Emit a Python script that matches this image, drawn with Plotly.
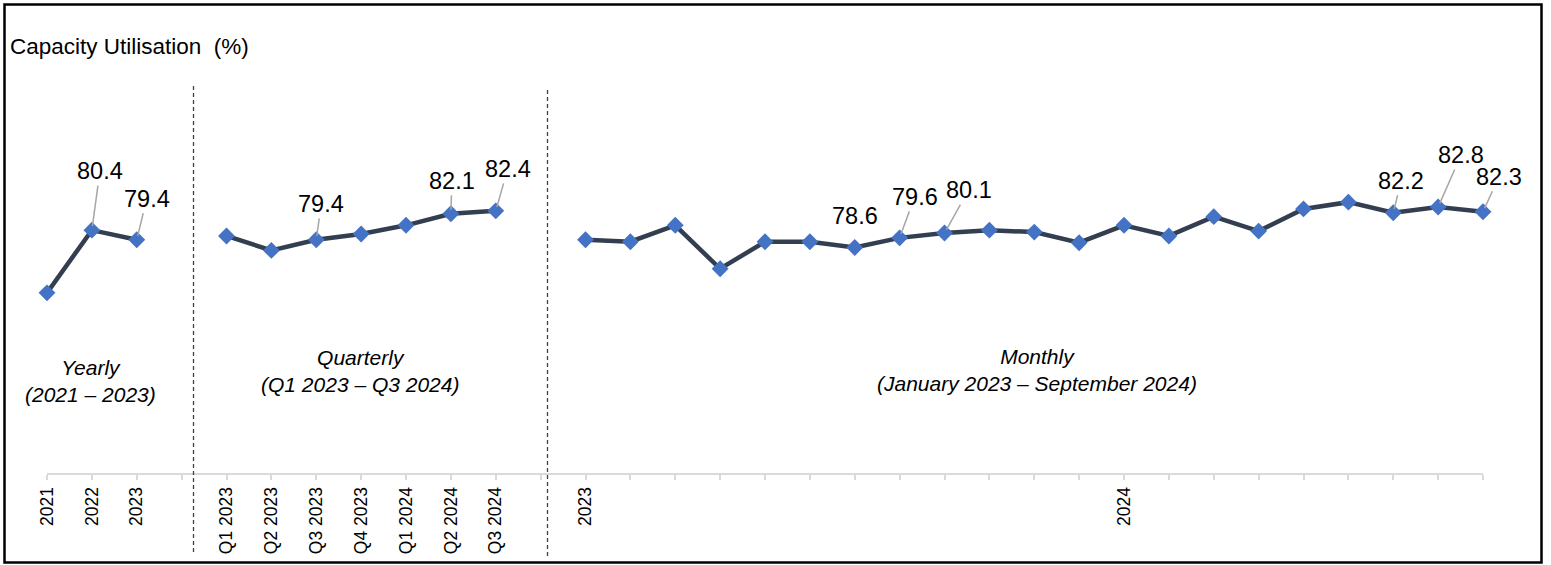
import plotly.graph_objects as go

# ---------------- data ----------------
years = ["2021", "2022", "2023"]
yearly_values = [73.9, 80.4, 79.4]

quarters = ["Q1 2023", "Q2 2023", "Q3 2023", "Q4 2023", "Q1 2024", "Q2 2024", "Q3 2024"]
quarterly_values = [79.8, 78.3, 79.4, 80.0, 80.9, 82.1, 82.4]

months = ["Jan 2023", "Feb 2023", "Mar 2023", "Apr 2023", "May 2023", "Jun 2023",
          "Jul 2023", "Aug 2023", "Sep 2023", "Oct 2023", "Nov 2023", "Dec 2023",
          "Jan 2024", "Feb 2024", "Mar 2024", "Apr 2024", "May 2024", "Jun 2024",
          "Jul 2024", "Aug 2024", "Sep 2024"]
monthly_values = [79.4, 79.2, 80.9, 76.4, 79.2, 79.2, 78.6, 79.6, 80.1, 80.4, 80.2, 79.1,
                  80.9, 79.8, 81.8, 80.3, 82.6, 83.3, 82.2, 82.8, 82.3]
monthly_tick_labels = ["2023", "", "", "", "", "", "", "", "", "", "", "",
                       "2024", "", "", "", "", "", "", "", ""]

yearly_labeled = ["2022", "2023"]
quarterly_labeled = ["Q3 2023", "Q2 2024", "Q3 2024"]
monthly_labeled = ["Jul 2023", "Aug 2023", "Sep 2023", "Jul 2024", "Aug 2024", "Sep 2024"]

title_text = "Capacity Utilisation  (%)"
section_texts = ["Yearly<br>(2021 – 2023)",
                 "Quarterly<br>(Q1 2023 – Q3 2024)",
                 "Monthly<br>(January 2023 – September 2024)"]

# ---------------- styling ----------------
W, H = 1551, 565
ML, MR, MT, MB = 47, 68, 80, 92
PW, PH = W - ML - MR, H - MT - MB
LINE_COLOR = "#333F50"
MARKER_COLOR = "#4472C4"
LEADER_COLOR = "#A6A6A6"
AXIS_COLOR = "#D9D9D9"
FONT = "Liberation Sans, Arial, sans-serif"

# label offsets in pixels (dx, dy) relative to point; flag = draw leader line
label_offsets = {
    ("y", "2022"): (8, -59, True), ("y", "2023"): (10, -41, True),
    ("q", "Q3 2023"): (5, -36, True), ("q", "Q2 2024"): (1, -33, True), ("q", "Q3 2024"): (12, -42, True),
    ("m", "Jul 2023"): (0, -32, False), ("m", "Aug 2023"): (15, -41, True), ("m", "Sep 2023"): (24, -43, True),
    ("m", "Jul 2024"): (8, -32, True), ("m", "Aug 2024"): (23, -52, True), ("m", "Sep 2024"): (16, -35, True),
}


def px_x(px):
    return (px - ML) / PW


def px_y(py):
    return (H - MB - py) / PH


# ---------------- positions on a shared numeric category axis ----------------
GAP = 1
x_year = list(range(len(years)))
q0 = x_year[-1] + 1 + GAP
x_quarter = [q0 + i for i in range(len(quarters))]
m0 = x_quarter[-1] + 1 + GAP
x_month = [m0 + i for i in range(len(months))]

tickvals = list(range(x_month[-1] + 1))
ticktext = [""] * len(tickvals)
for x, t in zip(x_year, years):
    ticktext[x] = t
for x, t in zip(x_quarter, quarters):
    ticktext[x] = t
for x, t in zip(x_month, monthly_tick_labels):
    ticktext[x] = t

fig = go.Figure()
for xs, ys in [(x_year, yearly_values), (x_quarter, quarterly_values), (x_month, monthly_values)]:
    fig.add_trace(go.Scatter(
        x=xs, y=ys, mode="lines+markers", cliponaxis=False,
        line=dict(color=LINE_COLOR, width=4.5),
        marker=dict(symbol="diamond", size=13, color=MARKER_COLOR),
        showlegend=False, hoverinfo="skip",
    ))

annotations = []
for key, cats, xs, vals in [("y", years, x_year, yearly_values),
                            ("q", quarters, x_quarter, quarterly_values),
                            ("m", months, x_month, monthly_values)]:
    labeled = {"y": yearly_labeled, "q": quarterly_labeled, "m": monthly_labeled}[key]
    for c, x, v in zip(cats, xs, vals):
        if c not in labeled:
            continue
        dx, dy, arrow = label_offsets[(key, c)]
        if arrow:
            annotations.append(dict(
                x=x, y=v, xref="x", yref="y", text=f"{v:.1f}",
                showarrow=True, arrowhead=0, arrowwidth=1.5, arrowcolor=LEADER_COLOR,
                ax=dx, ay=dy, standoff=4,
                font=dict(family=FONT, size=23.5, color="#000000"),
            ))
        else:
            annotations.append(dict(
                x=x, y=v, xref="x", yref="y", text=f"{v:.1f}",
                showarrow=False, xshift=dx, yshift=-dy,
                font=dict(family=FONT, size=23.5, color="#000000"),
            ))

section_pos = [(90, 381), (360, 371), (1037, 370)]
for txt, (px, py) in zip(section_texts, section_pos):
    lines = txt.split("<br>")
    annotations.append(dict(
        x=px_x(px), y=px_y(py), xref="paper", yref="paper",
        text="<br>".join(f"<i>{l}</i>" for l in lines),
        showarrow=False, xanchor="center", yanchor="middle", align="center",
        font=dict(family=FONT, size=21, color="#000000"),
    ))

shapes = [
    # outer border
    dict(type="rect", xref="paper", yref="paper",
         x0=px_x(4.5), x1=px_x(1541.5), y0=px_y(562.5), y1=px_y(4.5),
         line=dict(color="#000000", width=2.5), layer="above"),
    # section dividers
    dict(type="line", xref="paper", yref="paper",
         x0=px_x(193.5), x1=px_x(193.5), y0=px_y(86), y1=px_y(553),
         line=dict(color="#404040", width=1.3, dash="4px,3px")),
    dict(type="line", xref="paper", yref="paper",
         x0=px_x(547.5), x1=px_x(547.5), y0=px_y(90), y1=px_y(557),
         line=dict(color="#404040", width=1.3, dash="4px,3px")),
]

fig.update_layout(
    width=W, height=H,
    margin=dict(l=ML, r=MR, t=MT, b=MB, pad=0),
    paper_bgcolor="white", plot_bgcolor="white",
    title=dict(text=title_text.replace("  ", "&nbsp; "), x=10 / W, xanchor="left", xref="container",
               y=1 - 46 / H, yanchor="middle", yref="container",
               font=dict(family=FONT, size=22.5, color="#000000")),
    xaxis=dict(range=[tickvals[0], tickvals[-1]], tickmode="array",
               tickvals=tickvals, ticktext=ticktext, tickangle=-90,
               showgrid=False, zeroline=False, showline=True,
               linecolor=AXIS_COLOR, linewidth=2,
               ticks="outside", ticklen=5, tickwidth=1.5, tickcolor=AXIS_COLOR,
               tickfont=dict(family=FONT, size=17.5, color="#000000"),
               fixedrange=True),
    yaxis=dict(range=[55.234, 95.959], visible=False, showgrid=False,
               zeroline=False, fixedrange=True),
    annotations=annotations, shapes=shapes,
)

fig.write_html(
    "out.html",
    config={"displayModeBar": False},
    post_script="document.body.style.margin='0';document.body.style.overflow='hidden';",
)
